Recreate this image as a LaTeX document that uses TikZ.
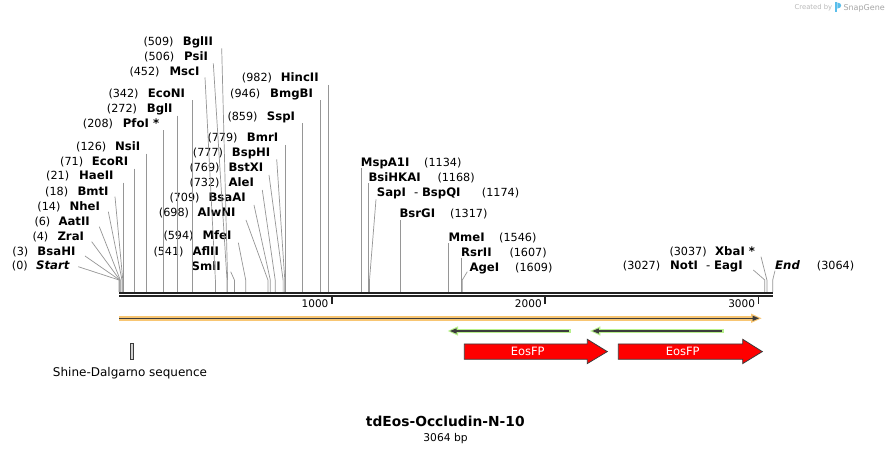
\documentclass[tikz,border=0pt]{standalone}
\usepackage{fontspec}
\setmainfont{DejaVu Sans}
\usetikzlibrary{arrows.meta}
\definecolor{sitegray}{RGB}{150,150,150}
\definecolor{bbdark}{RGB}{34,34,34}
\definecolor{featorange}{RGB}{248,198,115}
\definecolor{featgreen}{RGB}{184,240,140}
\definecolor{featdark}{RGB}{60,60,60}
\definecolor{eosred}{RGB}{255,0,0}
\definecolor{logoblue}{RGB}{90,190,235}
\newcommand\lblfont{\fontsize{11.2}{13}\selectfont}
\newcommand\enzfont{\fontsize{11.7}{13}\selectfont\bfseries}
\begin{document}
\begin{tikzpicture}[x=1pt,y=-1pt,
  numl/.style={anchor=base west,inner sep=0pt,font=\lblfont},
  enz/.style={anchor=base west,inner sep=0pt,font=\enzfont},
  siteln/.style={draw=sitegray,line width=0.7pt},
  backbone/.style={draw=bbdark,line width=2.3pt},
  tickln/.style={draw=bbdark,line width=1.6pt},
  ticklbl/.style={anchor=base east,inner sep=0pt,font=\fontsize{10.5}{12}\selectfont},
  eosbox/.style={fill=eosred,draw=featdark,line width=0.8pt},
  eoslbl/.style={inner sep=0pt,text=white,font=\fontsize{11.5}{13}\selectfont},
]
\useasboundingbox (0,0) rectangle (892,454);
\fill[white] (0,0) rectangle (892,454);

% ---------- site coordinates on the backbone ----------
\foreach \bp/\xx in {0/119.0,3/119.6,4/119.9,6/120.3,14/122.0,18/122.8,21/123.5,71/134.1,
  126/145.9,208/163.4,272/177.0,342/192.0,452/215.4,506/227.0,509/227.6,541/234.4,
  594/245.7,698/267.9,709/270.3,732/275.2,769/283.1,777/284.8,779/285.2,859/302.3,
  946/320.8,982/328.5,1134/360.9,1168/368.2,1174/369.5,1317/400.0,1546/448.8,
  1607/461.8,1609/462.3,3027/764.8,3037/766.9,3064/772.7}
  {\coordinate (s\bp) at (\xx,291.8);}

% ---------- left labels ----------
\node[numl] (n509) at (143.3,45.7) {(509)};  \node[enz] (BglII) at (182.7,45.7) {BglII};
\node[numl] (n506) at (144,60.7) {(506)};    \node[enz] (PsiI) at (184,60.7) {PsiI};
\node[numl] (n452) at (129.3,75.3) {(452)};  \node[enz] (MscI) at (169.3,75.3) {MscI};
\node[numl] (n342) at (108.3,97.3) {(342)};  \node[enz] (EcoNI) at (147.7,97.3) {EcoNI};
\node[numl] (n272) at (106.7,112.7) {(272)}; \node[enz] (BglI) at (146.7,112.7) {BglI};
\node[numl] (n208) at (82.7,127.3) {(208)};  \node[enz] (PfoI) at (122.7,127.3) {PfoI *};
\node[numl] (n126) at (76,150.7) {(126)};    \node[enz] (NsiI) at (115,150.7) {NsiI};
\node[numl] (n71) at (60,165.7) {(71)};      \node[enz] (EcoRI) at (91.7,165.7) {EcoRI};
\node[numl] (n21) at (46,179.7) {(21)};      \node[enz] (HaeII) at (79,179.7) {HaeII};
\node[numl] (n18) at (45,195.3) {(18)};      \node[enz] (BmtI) at (77.3,195.3) {BmtI};
\node[numl] (n14) at (37.3,210.7) {(14)};    \node[enz] (NheI) at (69.3,210.7) {NheI};
\node[numl] (n6) at (34.3,225.7) {(6)};      \node[enz] (AatII) at (58.3,225.7) {AatII};
\node[numl] (n4) at (32.3,240.7) {(4)};      \node[enz] (ZraI) at (57.3,240.7) {ZraI};
\node[numl] (n3) at (12.3,255.3) {(3)};      \node[enz] (BsaHI) at (37.3,255.3) {BsaHI};
\node[numl] (n0) at (11.7,269.7) {(0)};      \node[enz] (Start) at (36,269.7) {\itshape Start};

\node[numl] (n779) at (207.3,142) {(779)};   \node[enz] (BmrI) at (246.7,142) {BmrI};
\node[numl] (n777) at (192.7,157) {(777)};   \node[enz] (BspHI) at (231.7,157) {BspHI};
\node[numl] (n769) at (189.3,172) {(769)};   \node[enz] (BstXI) at (228.3,172) {BstXI};
\node[numl] (n732) at (189.3,187) {(732)};   \node[enz] (AleI) at (228.3,187) {AleI};
\node[numl] (n709) at (169.3,202) {(709)};   \node[enz] (BsaAI) at (208.3,202) {BsaAI};
\node[numl] (n698) at (158.7,217) {(698)};   \node[enz] (AlwNI) at (197.3,217) {AlwNI};
\node[numl] (n594) at (163.3,239.7) {(594)}; \node[enz] (MfeI) at (202.3,239.7) {MfeI};
\node[numl] (n541) at (153.3,255.3) {(541)}; \node[enz] (AflII) at (192.3,255.3) {AflII};
\node[enz] (SmlI) at (191.5,270.3) {SmlI};

\node[numl] (n982) at (241.7,82) {(982)};    \node[enz] (HincII) at (280.7,82) {HincII};
\node[numl] (n946) at (230,97.3) {(946)};    \node[enz] (BmgBI) at (270,97.3) {BmgBI};
\node[numl] (n859) at (227.3,120.3) {(859)}; \node[enz] (SspI) at (266.7,120.3) {SspI};

\node[numl] (n3037) at (669.3,255.3) {(3037)}; \node[enz] (XbaI) at (715,255.3) {XbaI *};
\node[numl] (n3027) at (622.7,269.7) {(3027)}; \node[enz] (NotI) at (670,269.7) {NotI\ \ \mdseries-\ \bfseries EagI};

% ---------- right labels ----------
\node[enz] (MspA1I) at (360.7,166.3) {MspA1I};   \node[numl] (n1134) at (424,166.3) {(1134)};
\node[enz] (BsiHKAI) at (368.3,181.3) {BsiHKAI}; \node[numl] (n1168) at (437.3,181.3) {(1168)};
\node[enz] (SapI) at (376.7,196.3) {SapI\ \ \mdseries-\ \bfseries BspQI}; \node[numl] (n1174) at (481.7,196.3) {(1174)};
\node[enz] (BsrGI) at (399.3,218) {BsrGI};       \node[numl] (n1317) at (450,218) {(1317)};
\node[enz] (MmeI) at (448.3,241.3) {MmeI};       \node[numl] (n1546) at (499,241.3) {(1546)};
\node[enz] (RsrII) at (461,256.3) {RsrII};       \node[numl] (n1607) at (509.3,256.3) {(1607)};
\node[enz] (AgeI) at (469.3,271.3) {AgeI};       \node[numl] (n1609) at (515,271.3) {(1609)};
\node[enz] (End) at (775,269.7) {\itshape End};  \node[numl] (n3064) at (816.7,269.7) {(3064)};

% ---------- connectors ----------
% start cluster
\draw[siteln] (Start.base west) ++(42.3,-3) -- (119.0,280) -- (s0);
\draw[siteln] (BsaHI.base west) ++(47.7,0.7) -- (119.6,280) -- (s3);
\draw[siteln] (ZraI.base west) ++(34.4,1) -- (119.9,280) -- (s4);
\draw[siteln] (AatII.base west) ++(41,1) -- (120.3,280) -- (s6);
\draw[siteln] (NheI.base west) ++(39,1) -- (122.0,280) -- (s14);
\draw[siteln] (BmtI.base west) ++(37.7,1.4) -- (122.8,280) -- (s18);
% vertical ones
\draw[siteln] (HaeII.base east -| s21) ++(0,3) -- (s21);
\draw[siteln] (EcoRI.base east -| s71) ++(0,3) -- (s71);
\draw[siteln] (NsiI.base east -| s126) ++(0,3) -- (s126);
\draw[siteln] (PfoI.base east -| s208) ++(0,3) -- (s208);
\draw[siteln] (BglI.base east -| s272) ++(0,3) -- (s272);
\draw[siteln] (EcoNI.base east -| s342) ++(0,3) -- (s342);
\draw[siteln] (SspI.base east -| s859) ++(0,3) -- (s859);
\draw[siteln] (BmgBI.base east -| s946) ++(0,3) -- (s946);
\draw[siteln] (HincII.base east -| s982) ++(0,3) -- (s982);
\draw[siteln] (BmrI.base east -| s779) ++(0,3) -- (s779);
% slanted ones
\draw[siteln] (MscI.base west) ++(35.7,2.2) -- (215.4,280) -- (s452);
\draw[siteln] (PsiI.base west) ++(29.3,2.6) -- (227.0,280) -- (s506);
\draw[siteln] (BglII.base west) ++(39,2.6) -- (227.6,280) -- (s509);
\draw[siteln] (BspHI.base west) ++(45,2.3) -- (284.8,280) -- (s777);
\draw[siteln] (BstXI.base west) ++(40.7,3) -- (283.1,280) -- (s769);
\draw[siteln] (AleI.base west) ++(34,3) -- (275.2,280) -- (s732);
\draw[siteln] (BsaAI.base west) ++(45.7,3) -- (270.3,280) -- (s709);
\draw[siteln] (AlwNI.base west) ++(48.7,3) -- (267.9,280) -- (s698);
\draw[siteln] (MfeI.base west) ++(36,3) -- (245.7,280) -- (s594);
\draw[siteln] (SmlI.base west) ++(39.2,1.4) -- (234.4,280) -- (s541);
% right side
\draw[siteln] (MspA1I.base west -| s1134) ++(0,2) -- (s1134);
\draw[siteln] (BsiHKAI.base west -| s1168) ++(0,2) -- (s1168);
\draw[siteln] (SapI.base west) ++(-0.7,3) -- (369.5,280) -- (s1174);
\draw[siteln] (BsrGI.base west -| s1317) ++(0,2) -- (s1317);
\draw[siteln] (MmeI.base west -| s1546) ++(0,2) -- (s1546);
\draw[siteln] (RsrII.base west -| s1607) ++(0,2) -- (s1607);
\draw[siteln] (AgeI.base west) ++(-2,0.4) -- (462.3,280) -- (s1609);
\draw[siteln] (NotI.base west) ++(83.3,0.3) -- (764.8,280) -- (s3027);
\draw[siteln] (XbaI.base west) ++(46,1.4) -- (766.9,280) -- (s3037);
\draw[siteln] (End.base west) ++(0,1) -- (772.7,280) -- (s3064);

% ---------- backbone ----------
\draw[backbone] (119,292.9) -- (772.7,292.9);
\draw[backbone] (119,296.2) -- (772.7,296.2);
\draw[tickln] (331.7,297) -- (331.7,304.5);
\draw[tickln] (545,297) -- (545,304.5);
\draw[tickln] (758.3,297) -- (758.3,304.5);
\node[ticklbl] (t1000) at (328.6,307.3) {1000};
\node[ticklbl] (t2000) at (541.9,307.3) {2000};
\node[ticklbl] (t3000) at (755.2,307.3) {3000};

% ---------- features ----------
% orange (forward)
\draw[featorange,line width=4.6pt] (119,318.3) -- (753,318.3);
\fill[featorange] (751,313.6) -- (761.5,318.3) -- (751,323) -- cycle;
\draw[featdark,line width=1.4pt] (119,318.3) -- (754,318.3);
\fill[featdark] (752.5,315.6) -- (759,318.3) -- (752.5,321) -- cycle;
% green (reverse)
\draw[featgreen,line width=4.6pt] (570.7,331) -- (456,331);
\fill[featgreen] (458,326.3) -- (447.8,331) -- (458,335.7) -- cycle;
\draw[featdark,line width=1.4pt] (568.5,331) -- (455,331);
\fill[featdark] (456.5,328.3) -- (450,331) -- (456.5,333.7) -- cycle;
\draw[featgreen,line width=4.6pt] (724,331) -- (598.4,331);
\fill[featgreen] (600.4,326.3) -- (590.2,331) -- (600.4,335.7) -- cycle;
\draw[featdark,line width=1.4pt] (721.8,331) -- (597.4,331);
\fill[featdark] (598.9,328.3) -- (592.4,331) -- (598.9,333.7) -- cycle;
% EosFP arrows
\draw[eosbox] (464.3,344) -- (587.3,344) -- (587.3,339.3) -- (607.3,351.6) -- (587.3,363.6) -- (587.3,359.3) -- (464.3,359.3) -- cycle;
\node[eoslbl] (eos1) at (527.7,351.2) {EosFP};
\draw[eosbox] (618.3,344) -- (742.7,344) -- (742.7,339.3) -- (762.3,351.6) -- (742.7,363.6) -- (742.7,359.3) -- (618.3,359.3) -- cycle;
\node[eoslbl] (eos2) at (682.7,351.2) {EosFP};
% Shine-Dalgarno
\draw[fill=gray!35,draw=featdark,line width=0.6pt] (130.6,343.3) rectangle (132.8,359.3);
\node[anchor=base,inner sep=0pt,font=\fontsize{12}{14}\selectfont] (sd) at (130,376.5) {Shine-Dalgarno sequence};

% ---------- title ----------
\node[anchor=base,inner sep=0pt,font=\fontsize{13.8}{16}\selectfont\bfseries] (title) at (445.3,426.7) {tdEos-Occludin-N-10};
\node[anchor=base,inner sep=0pt,font=\fontsize{10.7}{13}\selectfont] (bp) at (445.5,441) {3064 bp};

% ---------- credit ----------
\node[anchor=base west,inner sep=0pt,text=gray!55,font=\fontsize{6.8}{8}\selectfont] (cr) at (794.5,9.8) {Created by};
\fill[logoblue] (835.3,2.5) rectangle (837.3,12);
\fill[logoblue] (837.3,2.5) .. controls (842.5,2.8) and (842.5,8.2) .. (837.3,8.6) -- cycle;
\node[anchor=base west,inner sep=0pt,text=gray!70,font=\fontsize{8}{10}\selectfont] (sg) at (843.3,10.3) {SnapGene};
\end{tikzpicture}
\end{document}
